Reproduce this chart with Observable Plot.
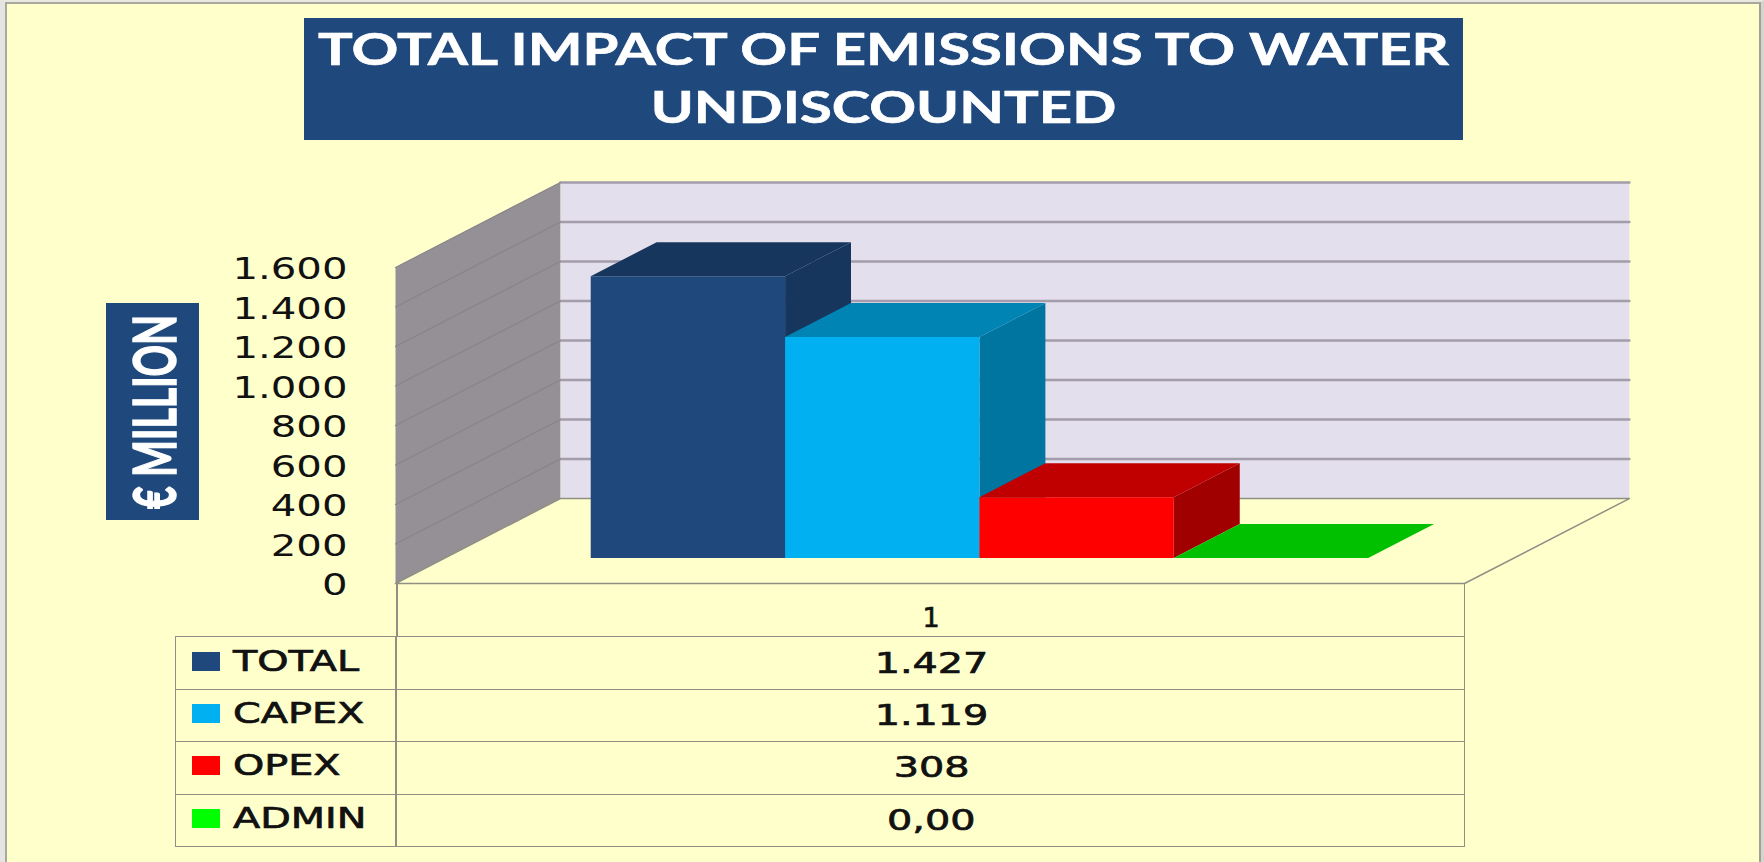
<!DOCTYPE html>
<html><head><meta charset="utf-8">
<script src="https://cdn.jsdelivr.net/npm/d3@7"></script>
<script src="https://cdn.jsdelivr.net/npm/@observablehq/plot@0.6"></script>
<style>
html,body{margin:0;padding:0;background:#FFFFCC}
#page{position:relative;width:1764px;height:862px;overflow:hidden;background:#FFFFCC;font-family:"DejaVu Sans",sans-serif;color:#111}
#frame{position:absolute;left:0;top:0;width:1764px;height:862px;box-sizing:border-box;border-top:2px solid #e8e8e0;border-left:5px solid #e4e4e4;border-right:3px solid #d4d4cc}
#frame div{width:100%;height:100%;box-sizing:border-box;border-top:2px solid #a8a89c;border-left:2px solid #a8a89c;border-right:2px solid #a0a094}
#title{position:absolute;left:304px;top:18px;width:1159px;height:122px;padding-top:2px;box-sizing:border-box;background:#1F497D;color:#fff;font-family:Lato,sans-serif;font-weight:700;font-size:43px;line-height:58px;text-align:center;white-space:nowrap;-webkit-text-stroke:.6px #fff}
#title span{display:block;transform:scaleX(1.35);transform-origin:center}
#ylabel{position:absolute;left:106px;top:303px;width:93px;height:217px;background:#1F497D}
#ylabel span{position:absolute;left:50%;top:50%;color:#fff;font-family:Lato,sans-serif;font-weight:700;font-size:60px;white-space:nowrap;-webkit-text-stroke:1.5px #fff;transform:translate(-50%,-50%) rotate(-90deg) scaleX(.65)}
#chart{position:absolute;left:0;top:0}
#chart svg{background:transparent;display:block}
#table{position:absolute;left:175px;top:583px;width:1290px;height:263px}
.row{position:absolute;left:0;width:1290px;box-sizing:border-box}
.cell{position:absolute;top:0;bottom:0;box-sizing:border-box}
.stretch{display:inline-block;transform:scaleX(1.37);white-space:nowrap}
.num{left:221px;width:1069px;text-align:center;font-size:29px;line-height:52px;-webkit-text-stroke:.7px #111}
.lab{left:0;width:221px;font-size:29px;line-height:52px;-webkit-text-stroke:.7px #111}
.lab .stretch{position:absolute;left:57px;top:-2px;transform-origin:left center}
.sw{position:absolute;left:16px;top:15px;width:28px;height:19px}
</style></head>
<body><div id="page">
<div id="frame"><div></div></div>
<div id="title"></div>
<div id="ylabel"><span>€ MILLION</span></div>
<div id="chart"></div>
<div id="table"></div>
</div>
<script>
const titleLines = ["TOTAL IMPACT OF EMISSIONS TO WATER", "UNDISCOUNTED"];
const categoryLabel = "1";
const seriesNames = ["TOTAL", "CAPEX", "OPEX", "ADMIN"];
const seriesValues = [1427, 1119, 308, 0];
const tableLabels = ["1.427", "1.119", "308", "0,00"];
const seriesColors = ["#1F497D", "#00B0F0", "#FF0000", "#00FF00"];
const topColors = ["#17365D", "#0084B4", "#C00000", "#00C000"];
const sideColors = ["#17365D", "#0075A0", "#A00000", "#00A000"];
const yTicks = [0, 200, 400, 600, 800, 1000, 1200, 1400, 1600];
const gridTicks = [200, 400, 600, 800, 1000, 1200, 1400, 1600];

document.getElementById("title").innerHTML = titleLines.map(t => `<span>${t}</span>`).join("");

// oblique projection: u = bar widths along x, v = value, z = depth 0..1
const DEPTH_U = 0.848, DEPTH_V = 430;
const UMAX = 5.5, GAP = 0.75, Z0 = 0.3, Z1 = 0.7, VMAX = 1600;
const P = (u, v, z) => ({x: u + z * DEPTH_U, y: v + z * DEPTH_V});
const poly = (id, fill, pts) => pts.map(([u, v, z]) => ({id, fill, ...P(u, v, z)}));

const wallFaces = [
  ...poly("back", "#E4DFEC", [[0,0,1],[UMAX,0,1],[UMAX,VMAX,1],[0,VMAX,1]]),
  ...poly("side", "#949095", [[0,0,0],[0,0,1],[0,VMAX,1],[0,VMAX,0]])
];
const backGrid = gridTicks.flatMap(v => poly("b"+v, "none", [[0,v,1],[UMAX,v,1]]));
const sideGrid = gridTicks.flatMap(v => poly("s"+v, "none", [[0,v,0],[0,v,1]]));
const floorLine = [...poly("f", "none", [[0,0,0],[UMAX,0,0],[UMAX,0,1],[0,0,1],[0,0,0]])];

const barFaces = seriesValues.flatMap((v, i) => {
  const a = GAP + i, b = a + 1;
  return [
    ...poly(i+"s", sideColors[i], [[b,0,Z0],[b,0,Z1],[b,v,Z1],[b,v,Z0]]),
    ...poly(i+"t", topColors[i], [[a,v,Z0],[b,v,Z0],[b,v,Z1],[a,v,Z1]]),
    ...poly(i+"f", seriesColors[i], [[a,0,Z0],[b,0,Z0],[b,v,Z0],[a,v,Z0]])
  ];
});

const dotted = d3.formatLocale({thousands: ".", decimal: ",", grouping: [3], currency: ["", "€"]}).format(",");
const filled = data => Plot.line(data, {x: "x", y: "y", z: "id", fill: "fill", stroke: "none", curve: "linear-closed"});

const plot = Plot.plot({
  width: 1764, height: 600,
  marginLeft: 350, marginTop: 0, marginRight: 0, marginBottom: 0,
  style: {background: "transparent", overflow: "visible"},
  color: {type: "identity"},
  x: {type: "linear", domain: [0, UMAX], range: [395, 1464], axis: null},
  y: {type: "linear", domain: [0, VMAX], range: [583, 267], axis: null},
  marks: [
    filled(wallFaces),
    Plot.line(backGrid, {x: "x", y: "y", z: "id", stroke: "#A39DAB", strokeWidth: 2.5}),
    Plot.line(sideGrid, {x: "x", y: "y", z: "id", stroke: "#88848A", strokeWidth: 1.2}),
    Plot.line(floorLine, {x: "x", y: "y", z: "id", stroke: "#8f8f84", strokeWidth: 1.5}),
    filled(barFaces),
    Plot.axisY({
      ticks: yTicks, tickSize: 0, tickPadding: 3, label: null, anchor: "left",
      tickFormat: dotted, fontSize: 30, fill: "#111", dy: 2,
      fontFamily: "DejaVu Sans", stroke: "#111", strokeWidth: 0.7
    })
  ]
});
document.getElementById("chart").appendChild(plot);

// the reference is stretched horizontally: widen the tick labels the same way
plot.querySelectorAll("g[aria-label='y-axis tick label'] text").forEach(t => {
  t.setAttribute("textLength", t.getComputedTextLength() * 1.34);
  t.setAttribute("lengthAdjust", "spacingAndGlyphs");
});

// data table below the plot
const line = "#8f8f84";
const ROW = 52.5, HEAD = 53;
let html = `<div class="row" style="top:0;height:${HEAD}px;left:221px;width:1069px;border-left:2px solid ${line};border-right:1.5px solid ${line}"><div style="text-align:center;font-size:27px;line-height:69px;-webkit-text-stroke:.7px #111">${categoryLabel}</div></div>`;
seriesNames.forEach((n, i) => {
  html += `<div class="row" style="top:${HEAD + i * ROW}px;height:${ROW + 1}px;border:1.5px solid ${line};${i ? "border-top:none;" : ""}">
    <div class="cell lab" style="border-right:2px solid ${line}"><div class="sw" style="background:${seriesColors[i]}"></div><span class="stretch">${n}</span></div>
    <div class="cell num"><span class="stretch">${tableLabels[i]}</span></div></div>`;
});
document.getElementById("table").innerHTML = html;
</script></body></html>
